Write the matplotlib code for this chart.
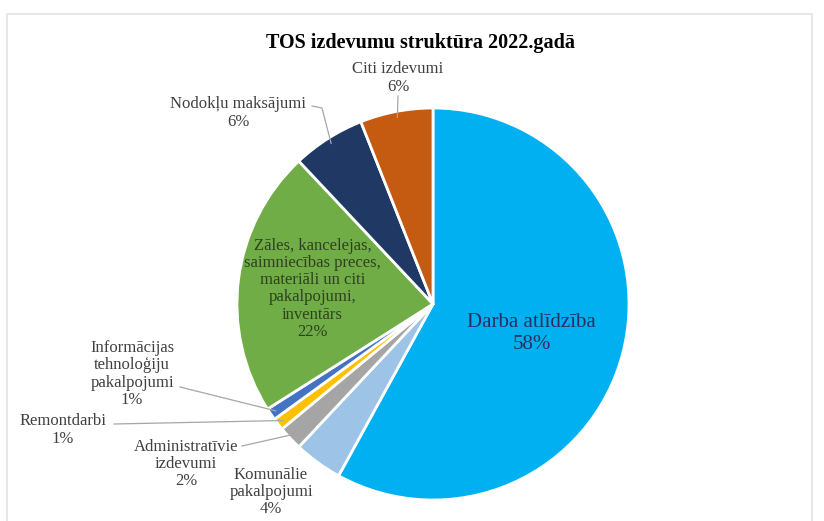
import numpy as np
import matplotlib.pyplot as plt
from matplotlib.patches import Rectangle

plt.rcParams['font.family'] = ['Liberation Serif', 'DejaVu Serif']

W, H = 824, 521

categories = ["Darba atlīdzība",
              "Komunālie\npakalpojumi",
              "Administratīvie\nizdevumi",
              "Remontdarbi",
              "Informācijas\ntehnoloģiju\npakalpojumi",
              "Zāles, kancelejas,\nsaimniecības preces,\nmateriāli un citi\npakalpojumi,\ninventārs",
              "Nodokļu maksājumi",
              "Citi izdevumi"]
shares = [58, 4, 2, 1, 1, 22, 6, 6]
colors = ["#00B0F0", "#9DC3E6", "#A5A5A5", "#FFC000", "#4472C4",
          "#70AD47", "#203864", "#C55A11"]

# label placement (pixel space, y measured from top), None = inside the wedge
label_pos = [None, (271, 492), (186, 464), (63, 430), (132, 374), None,
             (238, 113), (398, 78)]
line_start = [None, None, (242, 446), (114, 424), (180, 387), None,
              [(312, 106), (322, 108)], [(398, 96)]]
inner_r = [0.52, None, None, None, None, 0.62, None, None]

fig = plt.figure(figsize=(W / 100, H / 100), dpi=100)
ax = fig.add_axes([0, 0, 1, 1])

# faint chart-area frame
ax.add_patch(Rectangle((7, -5), 805, H - 14 + 5, fill=False,
                       edgecolor="#E3E3E3", lw=1.2))

cx, cy, R = 433, H - 304, 196
wedges, _ = ax.pie(shares, colors=colors, startangle=90, counterclock=False,
                   center=(cx, cy), radius=R,
                   wedgeprops=dict(edgecolor='white', linewidth=2))
ax.set_xlim(0, W)
ax.set_ylim(0, H)
ax.set_aspect('equal')
ax.axis('off')

ax.text(W / 2 + 9, H - 43, "TOS izdevumu struktūra 2022.gadā",
        ha='center', va='center', fontsize=14.5, fontweight='bold')

txt_col = "#404040"
for i, w in enumerate(wedges):
    mid = np.deg2rad((w.theta1 + w.theta2) / 2)
    lab = f"{categories[i]}\n{shares[i]}%"
    if label_pos[i] is None:
        r = inner_r[i] * R
        big = i == 0
        ax.text(cx + r * np.cos(mid), cy + r * np.sin(mid) - (4 if big else 0),
                lab, ha='center', va='center', fontsize=15 if big else 12,
                color="#2A2F60" if big else "#2F4020",
                linespacing=1.2 if big else 1.1)
        continue
    px, py = label_pos[i]
    ax.text(px, H - py, lab, ha='center', va='center', fontsize=12,
            color=txt_col, linespacing=1.1)
    pts = line_start[i]
    if pts is None:
        continue
    if isinstance(pts, tuple):
        pts = [pts]
    xs = [p[0] for p in pts] + [cx + 0.97 * R * np.cos(mid)]
    ys = [H - p[1] for p in pts] + [cy + 0.97 * R * np.sin(mid)]
    ax.plot(xs, ys, color="#A6A6A6", lw=0.9)

fig.savefig("out.png", dpi=100, facecolor='white')
